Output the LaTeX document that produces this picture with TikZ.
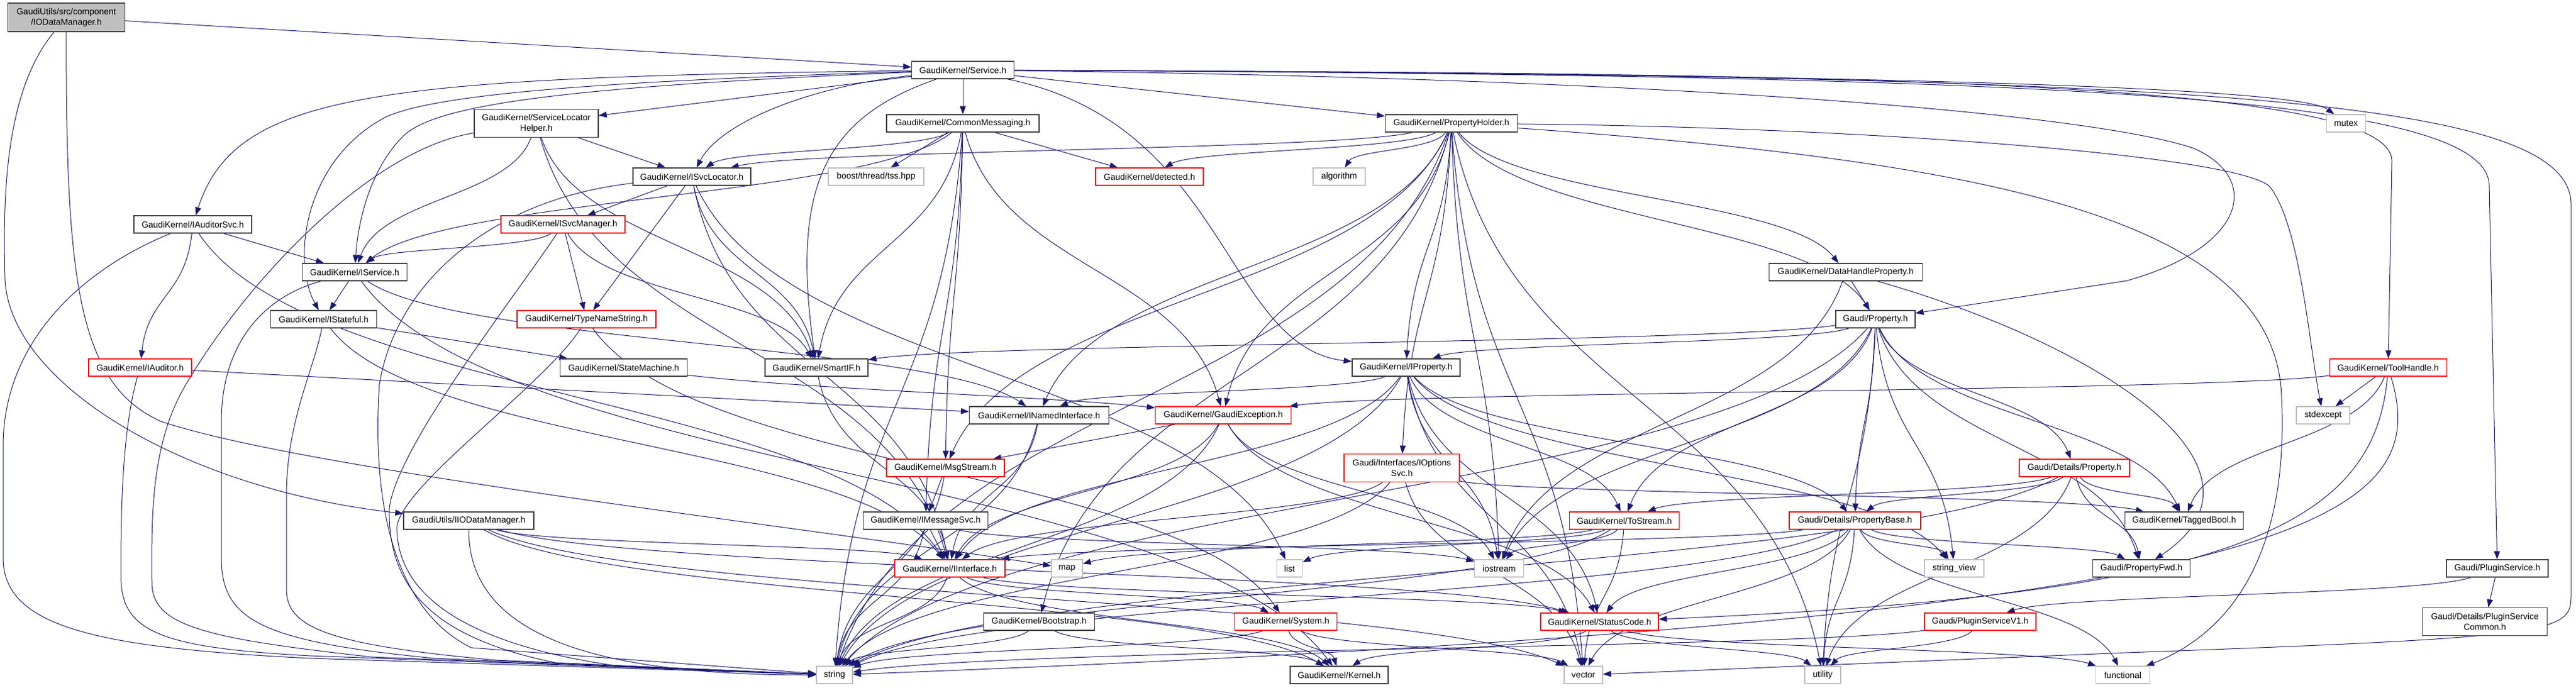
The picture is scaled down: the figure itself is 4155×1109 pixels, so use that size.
\documentclass[tikz,border=0pt]{standalone}
\usepackage{fontspec}
\setmainfont{Liberation Sans}
\usetikzlibrary{arrows.meta,calc}
\pgfdeclarelayer{bg}
\pgfsetlayers{bg,main}
\definecolor{edgec}{HTML}{191970}
\definecolor{nbord}{HTML}{404040}
\definecolor{gbord}{HTML}{BFBFBF}
\tikzset{
  gnode/.style={draw=nbord, line width=1.2pt, fill=white, rectangle, inner sep=0pt,
    minimum height=28pt, font=\fontsize{14}{17}\selectfont, align=center, text=black},
  rnode/.style={gnode, draw=red},
  snode/.style={gnode, draw=gbord},
  tnode/.style={gnode, fill=gbord, minimum height=46pt},
  two/.style={minimum height=45pt},
  edg/.style={draw=edgec, line width=1pt, -{Triangle[length=13pt,width=9.5pt]}},
}
\newcommand\mk[6]{\node[#5, minimum width=#4pt] (#1) at (#2,#3) {#6};}
\newcommand\edgG[2]{\draw[edg] let \p1=(#1.center), \p2=(#2.center) in (#1) .. controls ({\x1+0.15*(\x2-\x1)},{0.5*(\y1+\y2)}) and ({\x2-0.15*(\x2-\x1)},{0.5*(\y1+\y2)}) .. (#2);}
\newcommand\edgH[2]{\draw[edg] let \p1=(#1.center), \p2=(#2.center) in (#1) .. controls (\x1,{\y1+0.75*(\y2-\y1)}) and ({\x1+0.35*(\x2-\x1)},\y2) .. (#2);}
\newcommand\edgS[2]{\draw[edg] (#1) -- (#2);}
\begin{document}
\begin{tikzpicture}[x=1pt,y=-1pt]
\useasboundingbox (0,0) rectangle (4155,1109);
\mk{A}{107}{28}{189}{tnode}{GaudiUtils/src/component\\/IODataManager.h}
\mk{SVC}{1553}{113}{165}{gnode}{GaudiKernel/Service.h}
\mk{SLH}{865}{199}{200}{gnode,two}{GaudiKernel/ServiceLocator\\Helper.h}
\mk{CM}{1553}{199}{246}{gnode}{GaudiKernel/CommonMessaging.h}
\mk{PH}{2341}{199}{213}{gnode}{GaudiKernel/PropertyHolder.h}
\mk{MUTEX}{3784}{199}{63}{snode}{mutex}
\mk{ISL}{1116}{285}{190}{gnode}{GaudiKernel/ISvcLocator.h}
\mk{TSS}{1413}{285}{154}{snode}{boost/thread/tss.hpp}
\mk{DET}{1854}{285}{174}{rnode}{GaudiKernel/detected.h}
\mk{ALG}{2160}{285}{84}{snode}{algorithm}
\mk{IAS}{311}{362}{190}{gnode}{GaudiKernel/IAuditorSvc.h}
\mk{ISM}{908}{362}{200}{rnode}{GaudiKernel/ISvcManager.h}
\mk{ISRV}{572}{439}{169}{gnode}{GaudiKernel/IService.h}
\mk{DHP}{2977}{439}{247}{gnode}{GaudiKernel/DataHandleProperty.h}
\mk{IST}{522}{515}{171}{gnode}{GaudiKernel/IStateful.h}
\mk{TNS}{946}{515}{224}{rnode}{GaudiKernel/TypeNameString.h}
\mk{PROP}{3025}{515}{128}{gnode}{Gaudi/Property.h}
\mk{IAUD}{226}{593}{166}{rnode}{GaudiKernel/IAuditor.h}
\mk{SM}{1006}{593}{205}{gnode}{GaudiKernel/StateMachine.h}
\mk{SIF}{1317}{593}{166}{gnode}{GaudiKernel/SmartIF.h}
\mk{IPROP}{2268}{593}{174}{gnode}{GaudiKernel/IProperty.h}
\mk{TH}{3852}{593}{189}{rnode}{GaudiKernel/ToolHandle.h}
\mk{INI}{1676}{670}{225}{gnode}{GaudiKernel/INamedInterface.h}
\mk{GE}{1973}{670}{219}{rnode}{GaudiKernel/GaudiException.h}
\mk{STDEX}{3747}{670}{86}{snode}{stdexcept}
\mk{MS}{1525}{755}{190}{rnode}{GaudiKernel/MsgStream.h}
\mk{IOPT}{2261}{755}{186}{rnode,two}{Gaudi/Interfaces/IOptions\\Svc.h}
\mk{DPROP}{3346}{755}{178}{rnode}{Gaudi/Details/Property.h}
\mk{IIOD}{756}{840}{210}{gnode}{GaudiUtils/IIODataManager.h}
\mk{IMS}{1493}{840}{201}{gnode}{GaudiKernel/IMessageSvc.h}
\mk{TOS}{2620}{840}{177}{rnode}{GaudiKernel/ToStream.h}
\mk{PB}{2992}{840}{212}{rnode}{Gaudi/Details/PropertyBase.h}
\mk{TB}{3523}{840}{191}{gnode}{GaudiKernel/TaggedBool.h}
\mk{II}{1532}{917}{178}{rnode}{GaudiKernel/IInterface.h}
\mk{MAP}{1721}{917}{50}{snode}{map}
\mk{LIST}{2080}{917}{41}{snode}{list}
\mk{IOS}{2418}{917}{79}{snode}{iostream}
\mk{SV}{3152}{917}{96}{snode}{string\_view}
\mk{PFWD}{3454}{917}{157}{gnode}{Gaudi/PropertyFwd.h}
\mk{PS}{4028}{917}{164}{gnode}{Gaudi/PluginService.h}
\mk{BOOT}{1676}{1003}{179}{gnode}{GaudiKernel/Bootstrap.h}
\mk{SYS}{2074}{1003}{165}{rnode}{GaudiKernel/System.h}
\mk{SC}{2580}{1003}{190}{rnode}{GaudiKernel/StatusCode.h}
\mk{PSV1}{3194}{1003}{180}{rnode}{Gaudi/PluginServiceV1.h}
\mk{PSC}{4008}{1003}{201}{gnode,two}{Gaudi/Details/PluginService\\Common.h}
\mk{STR}{1346}{1089}{58}{snode}{string}
\mk{KER}{2160}{1089}{158}{gnode}{GaudiKernel/Kernel.h}
\mk{VEC}{2554}{1089}{62}{snode}{vector}
\mk{UTIL}{2940}{1089}{58}{snode}{utility}
\mk{FUNC}{3424}{1089}{87}{snode}{functional}
\begin{pgfonlayer}{bg}
% A
\edgS{A}{SVC}
\draw[edg] (A) .. controls (5,150) and (5,330) .. (8,450) .. controls (15,620) and (300,790) .. (IIOD);
\draw[edg] (A) .. controls (106,450) and (125,620) .. (260,680) .. controls (500,760) and (1300,850) .. (MAP);
% IIOD
\edgG{IIOD}{II} \edgG{IIOD}{KER} \edgG{IIOD}{SC} \edgG{IIOD}{VEC} \edgH{IIOD}{STR}
% SVC
\edgS{SVC}{CM}
\draw[edg] (SVC) .. controls (600,125) and (380,150) .. (IAS);
\draw[edg] (SVC) .. controls (1980,200) and (1975,560) .. (IPROP);
\draw[edg] (SVC) .. controls (900,140) and (700,170) .. (650,220) .. controls (600,270) and (578,350) .. (ISRV);
\draw[edg] (SVC) .. controls (1300,140) and (1160,200) .. (ISL);
\draw[edg] (SVC) .. controls (1000,130) and (700,150) .. (620,190) .. controls (490,260) and (470,420) .. (IST);
\edgS{SVC}{PH}
\edgS{SVC}{SLH}
\draw[edg] (SVC) .. controls (1330,190) and (1275,300) .. (SIF);
\draw[edg] (SVC) .. controls (3000,118) and (3860,130) .. (3858,260) -- (TH);
\draw[edg] (SVC) .. controls (3300,122) and (4015,150) .. (4015,300) -- (PS);
\draw[edg] (SVC) .. controls (2800,128) and (3400,190) .. (3540,240) .. controls (3650,290) and (3620,400) .. (3430,453) -- (PROP);
\draw[edg] (SVC) .. controls (2800,118) and (3700,135) .. (MUTEX);
\draw[edg] (SVC) .. controls (3500,122) and (4147,150) .. (4147,330) -- (4147,960) .. controls (4147,1020) and (4130,1028) .. (3430,1053) -- (VEC);
% IAS
\edgG{IAS}{IAUD}
\edgS{IAS}{ISRV}
\draw[edg] (IAS) .. controls (120,440) and (5,560) .. (5,720) -- (5,900) .. controls (5,1010) and (150,1045) .. (500,1062) -- (STR);
\edgG{IAS}{II}
% IAUD
\edgS{IAUD}{INI}
\draw[edg] (IAUD) .. controls (195,700) and (195,850) .. (195,930) .. controls (195,1020) and (260,1045) .. (500,1058) -- (STR);
% ISRV
\edgS{ISRV}{IST}
\edgG{ISRV}{INI}
\edgG{ISRV}{KER}
\draw[edg] (ISRV) .. controls (420,480) and (357,560) .. (357,680) -- (357,900) .. controls (357,1000) and (420,1035) .. (700,1062) -- (STR);
% IST
\edgG{IST}{II}
\edgS{IST}{SM}
\draw[edg] (IST) .. controls (505,600) and (462,680) .. (462,800) -- (462,950) .. controls (462,1010) and (520,1040) .. (800,1065) -- (STR);
% SM
\draw[edg] (SM) .. controls (1300,628) and (1700,640) .. (GE);
% SLH
\edgS{SLH}{ISL}
\edgG{SLH}{ISRV}
\edgG{SLH}{SIF}
\edgG{SLH}{II}
\draw[edg] (SLH) .. controls (600,240) and (400,450) .. (300,620) .. controls (240,720) and (245,850) .. (245,940) .. controls (245,1010) and (330,1030) .. (600,1060) -- (STR);
% CM
\edgG{CM}{GE} \edgG{CM}{IMS} \edgG{CM}{ISL} \edgG{CM}{MS} \edgG{CM}{SIF} \edgS{CM}{DET} \edgS{CM}{TSS} \edgG{CM}{ISRV} \edgG{CM}{STR}
% ISL
\edgS{ISL}{ISM} \edgS{ISL}{TNS} \edgG{ISL}{SIF} \edgG{ISL}{II} \edgG{ISL}{LIST}
\draw[edg] (ISL) .. controls (800,320) and (640,450) .. (612,620) .. controls (600,800) and (630,980) .. (760,1045) -- (STR);
% ISM
\edgG{ISM}{ISRV} \edgS{ISM}{TNS} \edgG{ISM}{SIF}
\draw[edg] (ISM) .. controls (830,480) and (640,720) .. (628,820) .. controls (625,950) and (700,1030) .. (900,1070) -- (STR);
% TNS
\draw[edg] (TNS) .. controls (880,620) and (650,780) .. (640,850) .. controls (640,960) and (750,1040) .. (1000,1075) -- (STR);
\edgG{TNS}{SYS}
% SIF, INI, GE, MS, IMS, II
\edgG{SIF}{II}
\edgG{INI}{II} \edgG{INI}{STR}
\edgS{GE}{MS} \edgG{GE}{II} \edgG{GE}{SC} \edgG{GE}{IOS} \edgG{GE}{STR}
\edgS{MS}{IMS} \edgG{MS}{STR}
\edgS{IMS}{II} \edgG{IMS}{STR} \edgG{IMS}{IOS}
\edgG{II}{SC} \edgG{II}{SYS} \edgG{II}{KER} \edgG{II}{STR}
% BOOT, SYS, SC
\edgG{BOOT}{STR} \edgG{BOOT}{KER}
\edgG{SYS}{KER} \edgG{SYS}{VEC} \edgG{SYS}{STR}
\edgG{SC}{KER} \edgG{SC}{UTIL} \edgG{SC}{FUNC}
% PH
\edgG{PH}{ALG}
\draw[edg] (PH) .. controls (3200,260) and (3670,350) .. (3680,640) .. controls (3695,950) and (3550,1040) .. (FUNC);
\edgG{PH}{IOS}
\draw[edg] (PH) .. controls (3000,205) and (3600,250) .. (3660,300) .. controls (3710,360) and (3725,560) .. (STDEX);
\edgG{PH}{STR} \edgG{PH}{UTIL} \edgG{PH}{VEC} \edgG{PH}{IOPT} \edgG{PH}{PROP} \edgG{PH}{BOOT} \edgG{PH}{DHP} \edgG{PH}{GE} \edgG{PH}{IPROP} \edgG{PH}{ISL} \edgG{PH}{MS} \edgG{PH}{DET} \edgG{PH}{INI}
% IPROP
\edgG{IPROP}{INI} \edgG{IPROP}{II} \edgG{IPROP}{SC} \edgG{IPROP}{IOS} \edgG{IPROP}{VEC} \edgG{IPROP}{SV} \edgG{IPROP}{STR} \edgG{IPROP}{PB} \edgG{IPROP}{TOS}
% IOPT
\edgG{IOPT}{II} \edgG{IOPT}{STR} \edgG{IOPT}{VEC} \edgG{IOPT}{TB}
% TOS
\edgG{TOS}{MAP} \edgG{TOS}{LIST} \edgG{TOS}{IOS} \edgG{TOS}{STR} \edgG{TOS}{VEC}
% DHP
\edgS{DHP}{PROP} \edgG{DHP}{IOS}
\draw[edg] (DHP) .. controls (3400,560) and (3690,760) .. (PFWD);
% PROP
\edgG{PROP}{IPROP} \edgG{PROP}{SIF} \edgG{PROP}{PB} \edgG{PROP}{DPROP} \edgG{PROP}{SV} \edgG{PROP}{TB} \edgG{PROP}{PFWD} \edgG{PROP}{TOS} \edgG{PROP}{IOS} \edgG{PROP}{STR} \edgG{PROP}{UTIL}
% DPROP
\edgG{DPROP}{TOS} \edgG{DPROP}{PB} \edgG{DPROP}{STR} \edgG{DPROP}{UTIL} \edgG{DPROP}{PFWD} \edgG{DPROP}{TB}
% PB
\edgG{PB}{II} \edgG{PB}{SC} \edgG{PB}{STR} \edgG{PB}{UTIL} \edgG{PB}{FUNC} \edgG{PB}{SV} \edgG{PB}{PFWD} \edgG{PB}{VEC}
% TH
\edgG{TH}{GE} \edgS{TH}{STDEX} \edgG{TH}{TB}
\draw[edg] (TH) .. controls (3830,850) and (3600,960) .. (SC);
\draw[edg] (TH) .. controls (3930,850) and (3700,1000) .. (STR);
% PS, PSV1
\edgS{PS}{PSC} \edgG{PS}{PSV1}
\edgG{PSV1}{STR} \edgG{PSV1}{UTIL}
\end{pgfonlayer}
\end{tikzpicture}
\end{document}
